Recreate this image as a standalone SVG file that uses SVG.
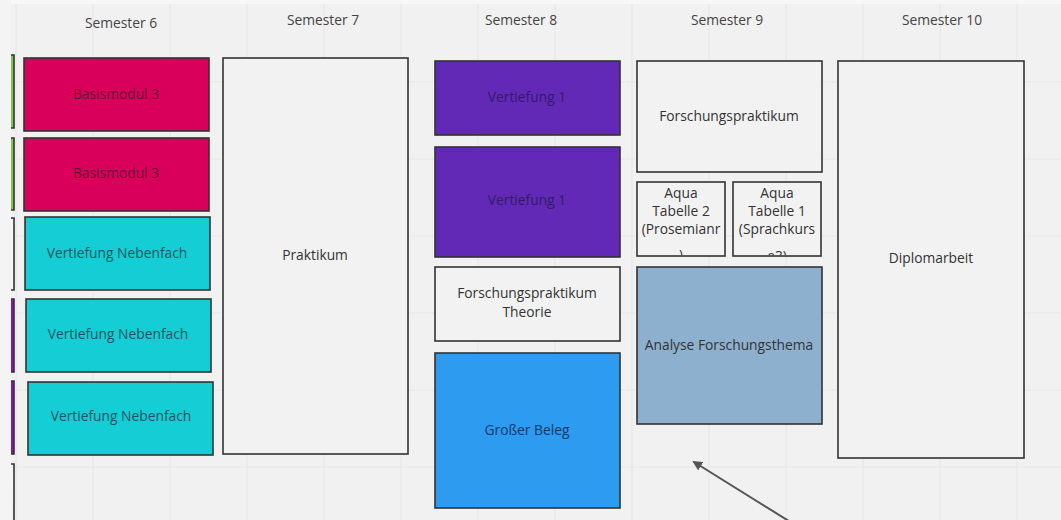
<svg xmlns="http://www.w3.org/2000/svg" width="1061" height="520" viewBox="0 0 1061 520">
<style>
text{font-family:"Open Sans","Noto Sans","Liberation Sans",sans-serif;font-size:13.8px;text-anchor:middle;dominant-baseline:central}
.hdr{fill:#444}
.box{stroke:#333;stroke-width:1.6}
.w{fill:#f2f2f2}
.t{fill:#333}
.grid{stroke:#e7e7e7;stroke-width:1}
</style>
<defs>
<marker id="ah" viewBox="0 0 10 10" refX="8" refY="5" markerWidth="5" markerHeight="5" orient="auto">
<path d="M0,0 L10,5 L0,10 z" fill="#555"/>
</marker>
<clipPath id="clipA2"><rect x="637" y="182" width="88" height="73"/></clipPath>
<clipPath id="clipA1"><rect x="733" y="182" width="88" height="73"/></clipPath>
</defs>
<rect width="1061" height="520" fill="#f1f1f1"/>
<rect width="1061" height="4" fill="#f7f7f7"/>
<rect x="0" y="0" width="11" height="520" fill="#f4f4f4"/>
<g id="grid" class="grid">
<path d="M16 4V520M93 4V520M170 4V520M247 4V520M324 4V520M401 4V520M478 4V520M555 4V520M632 4V520M709 4V520M786 4V520M863 4V520M940 4V520M1017 4V520"/>
<path d="M11 82H1061M11 159H1061M11 236H1061M11 313H1061M11 390H1061M11 467H1061"/>
</g>
<g id="headers">
<text class="hdr" x="121" y="22">Semester 6</text>
<text class="hdr" x="323" y="19">Semester 7</text>
<text class="hdr" x="521" y="19">Semester 8</text>
<text class="hdr" x="727" y="19">Semester 9</text>
<text class="hdr" x="942" y="19">Semester 10</text>
</g>
<g id="left-partial">
<path d="M11 55H14V128H11" fill="#7dc94a" stroke="#333" stroke-width="1.6"/>
<path d="M11 138H14V210H11" fill="#7dc94a" stroke="#333" stroke-width="1.6"/>
<path d="M11 218H14V290H11" fill="#f6f6f6" stroke="#333" stroke-width="1.6"/>
<path d="M11 299H14V372H11" fill="#8a12b0" stroke="#333" stroke-width="1.6"/>
<path d="M11 381H14V454H11" fill="#8a12b0" stroke="#333" stroke-width="1.6"/>
<path d="M11 464H14V520" fill="#f6f6f6" stroke="#333" stroke-width="1.6"/>
</g>
<g id="basismodul3-a"><rect class="box" x="24" y="58" width="185" height="73" fill="#d9005c"/><text x="116" y="93" fill="#6a0f35">Basismodul 3</text></g>
<g id="basismodul3-b"><rect class="box" x="24" y="138" width="185" height="73" fill="#d9005c"/><text x="116" y="172" fill="#6a0f35">Basismodul 3</text></g>
<g id="vn1"><rect class="box" x="25" y="217" width="185" height="73" fill="#14cdd5"/><text x="117" y="252" fill="#1c5560">Vertiefung Nebenfach</text></g>
<g id="vn2"><rect class="box" x="26" y="299" width="185" height="73" fill="#14cdd5"/><text x="118" y="333" fill="#1c5560">Vertiefung Nebenfach</text></g>
<g id="vn3"><rect class="box" x="28" y="382" width="185" height="73" fill="#14cdd5"/><text x="121" y="415" fill="#1c5560">Vertiefung Nebenfach</text></g>
<g id="praktikum"><rect class="box w" x="223" y="58" width="185" height="396"/><text class="t" x="315" y="254">Praktikum</text></g>
<g id="vertiefung1-a"><rect class="box" x="435" y="61" width="185" height="74" fill="#6129b6"/><text x="527" y="96" fill="#361a6a">Vertiefung 1</text></g>
<g id="vertiefung1-b"><rect class="box" x="435" y="147" width="185" height="110" fill="#6129b6"/><text x="527" y="199" fill="#361a6a">Vertiefung 1</text></g>
<g id="fp-theorie"><rect class="box w" x="435" y="267" width="185" height="74"/><text class="t" x="527" y="292">Forschungspraktikum</text><text class="t" x="527" y="311">Theorie</text></g>
<g id="grosser-beleg"><rect class="box" x="435" y="353" width="185" height="155" fill="#2d9bef"/><text x="527" y="429" fill="#0f3a6b">Großer Beleg</text></g>
<g id="forschungspraktikum"><rect class="box w" x="637" y="61" width="185" height="111"/><text class="t" x="729" y="115">Forschungspraktikum</text></g>
<g id="aqua2"><rect class="w" x="637" y="182" width="88" height="74"/><g clip-path="url(#clipA2)"><text class="t" x="681" y="192">Aqua</text><text class="t" x="681" y="210">Tabelle 2</text><text class="t" x="681" y="228">(Prosemianr</text><text class="t" x="681" y="254">)</text></g><rect class="box" x="637" y="182" width="88" height="74" fill="none"/></g>
<g id="aqua1"><rect class="w" x="733" y="182" width="88" height="74"/><g clip-path="url(#clipA1)"><text class="t" x="777" y="192">Aqua</text><text class="t" x="777" y="210">Tabelle 1</text><text class="t" x="777" y="228">(Sprachkurs</text><text class="t" x="777" y="255">e3)</text></g><rect class="box" x="733" y="182" width="88" height="74" fill="none"/></g>
<g id="analyse"><rect class="box" x="637" y="267" width="185" height="157" fill="#8db0cf"/><text class="t" x="729" y="344">Analyse Forschungsthema</text></g>
<g id="diplomarbeit"><rect class="box w" x="838" y="61" width="186" height="397"/><text class="t" x="931" y="257">Diplomarbeit</text></g>
<g id="connectors">
<line x1="792" y1="523" x2="694" y2="462" stroke="#555" stroke-width="2" marker-end="url(#ah)"/>
</g>
</svg>
